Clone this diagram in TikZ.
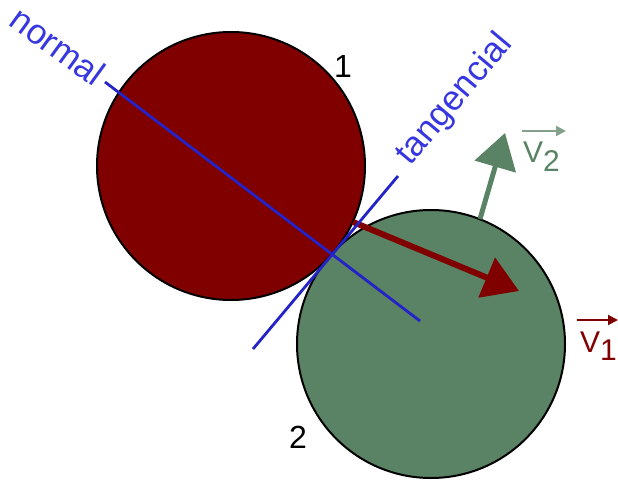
\documentclass[tikz,border=0pt]{standalone}
\usepackage{fontspec}
\setmainfont{Liberation Sans}
\usetikzlibrary{arrows.meta}
\definecolor{ballred}{RGB}{128,0,0}
\definecolor{ballgreen}{RGB}{90,130,100}
\definecolor{lineblue}{RGB}{35,35,200}
\definecolor{textblue}{RGB}{55,55,225}
\tikzset{
  ball/.style={circle, draw=black, line width=2pt, minimum size=268pt, inner sep=0pt},
  axisline/.style={draw=lineblue, line width=2.8pt},
  axislabel/.style={text=textblue, font=\fontsize{35}{35}\selectfont, inner sep=0pt},
  numlabel/.style={text=black, font=\fontsize{32}{32}\selectfont, inner sep=0pt},
  veclabel/.style={font=\fontsize{30}{30}\selectfont, inner sep=0pt, anchor=base west},
  bigarrow/.style={line width=6pt, -{Triangle[length=35pt,width=42pt]}},
  smallarrow/.style={line width=2pt, -{Triangle[length=10pt,width=10pt]}}
}
\begin{document}
\begin{tikzpicture}[x=1pt,y=-1pt]
\useasboundingbox (0,0) rectangle (618,481);
% balls
\node[ball, fill=ballgreen] (b2) at (431,344) {};
\node[ball, fill=ballred] (b1) at (231,166) {};
% velocity arrows
\coordinate (r0) at (353,222);
\coordinate (r1) at (519,291);
\coordinate (g0) at (480,219);
\coordinate (g1) at (505,133);
\draw[bigarrow, ballred] (r0) -- (r1);
\draw[bigarrow, ballgreen, line width=5pt] (g0) -- (g1);
% normal and tangent lines
\coordinate (n0) at (105,82);
\coordinate (n1) at (420,321);
\coordinate (t0) at (253,349);
\coordinate (t1) at (398,176);
\draw[axisline] (n0) -- (n1);
\draw[axisline] (t0) -- (t1);
\node[axislabel, rotate=-36] (nl) at (58,46) {normal};
\node[axislabel, rotate=50] (tl) at (455,100) {tangencial};
% numbers
\node[numlabel] (one) at (343,66) {1};
\node[numlabel] (two) at (298,437) {2};
% vector labels
\node[veclabel, text=ballgreen] (v2) at (523,163) {V\raisebox{-9pt}{2}};
\coordinate (v2a) at (522,131);
\coordinate (v2b) at (566,131);
\draw[smallarrow, ballgreen!75!white] (v2a) -- (v2b);
\node[veclabel, text=ballred] (v1) at (580,352) {V\raisebox{-8pt}{1}};
\coordinate (v1a) at (577,320);
\coordinate (v1b) at (618,320);
\draw[smallarrow, ballred] (v1a) -- (v1b);
\end{tikzpicture}
\end{document}
